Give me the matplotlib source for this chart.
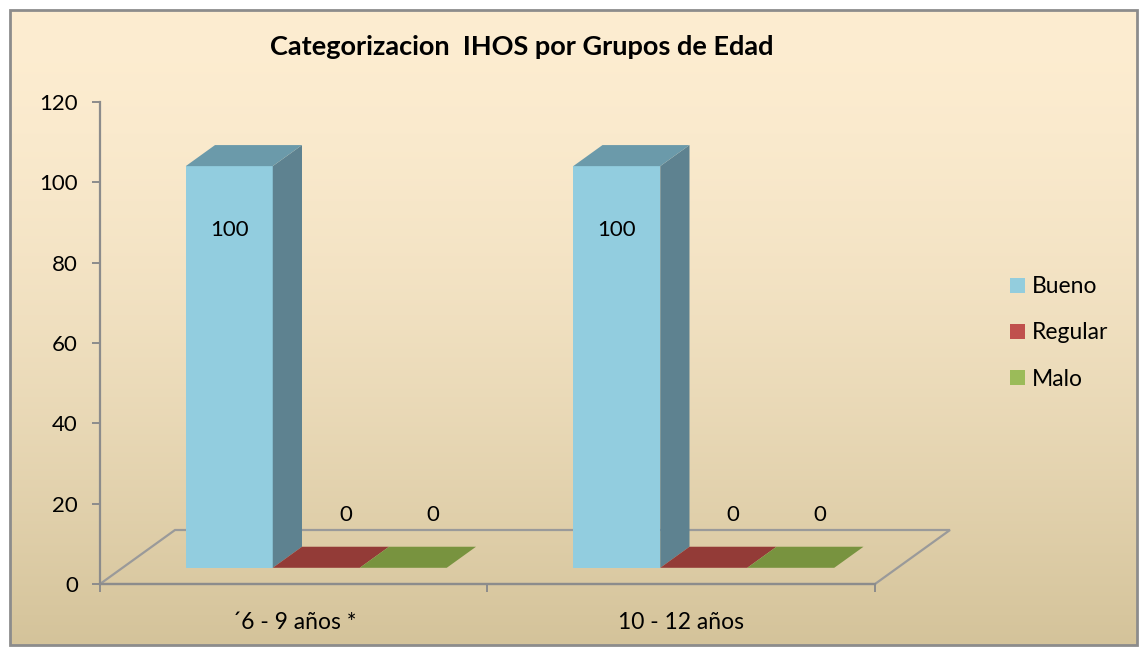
import numpy as np
import matplotlib
matplotlib.use("Agg")
import matplotlib.pyplot as plt
from matplotlib.patches import Polygon, Rectangle, Patch

plt.rcParams['font.family'] = ['Lato', 'DejaVu Sans']

# ---------------- data
groups = ["\u00b46 - 9 a\u00f1os *", "10 - 12 a\u00f1os"]
series = ["Bueno", "Regular", "Malo"]
bueno = [100, 100]
regular = [0, 0]
malo = [0, 0]
title = "Categorizacion  IHOS por Grupos de Edad"
yticks = [0, 20, 40, 60, 80, 100, 120]

# colours: front, side, top, legend
front_c = ["#92CDDF", "#B5453F", "#8AAA4C"]
side_c = ["#5E8290", "#7E302C", "#5E7A30"]
top_c = ["#6B9AAA", "#933B37", "#78933F"]
legend_c = ["#93CDDD", "#C0504D", "#9BBB59"]

W, H = 1142, 648
fig = plt.figure(figsize=(W / 100, H / 100), dpi=100)

############ background: gradient panel + frame
bg = fig.add_axes([0, 0, 1, 1])
bg.set_xlim(0, W)
bg.set_ylim(H, 0)
bg.axis("off")
top_rgb = np.array([253, 237, 209]) / 255.
bot_rgb = np.array([212, 195, 154]) / 255.
t = np.linspace(0, 1, 256)[:, None]
grad = (top_rgb * (1 - t ** 1.6) + bot_rgb * t ** 1.6)[:, None, :]
bg.imshow(grad, extent=[10, 1137, 645, 10], aspect="auto", zorder=0)
bg.add_patch(Rectangle((10, 10), 1127, 635, fill=False, ec="#8C8C8C", lw=2, zorder=1))

############ main axes (front plane of the floor)
x_l, x_r, y_0, y_120 = 100, 875, 584, 102
ax = fig.add_axes([x_l / W, 1 - y_0 / H, (x_r - x_l) / W, (y_0 - y_120) / H])
ax.patch.set_alpha(0)
ax.set_xlim(0, 2)
ax.set_ylim(0, 120)

px_x = (x_r - x_l) / 2.0
px_y = (y_0 - y_120) / 120.0
DX = 75 / px_x   # floor depth in data units
DV = 54 / px_y


def pt(x, v, d):
    return (x + d * DX, v + d * DV)


floor = [pt(0, 0, 0), pt(2, 0, 0), pt(2, 0, 1), pt(0, 0, 1)]
ax.add_patch(Polygon(floor, closed=True, fill=False, ec="#9A9A9A", lw=1.6, clip_on=False, zorder=1))

w = 87 / px_x
d0, d1 = 0.30, 0.69
vals = [bueno, regular, malo]
for g in range(len(groups)):
    start = g + 0.5 - 1.5 * w
    for k in range(3):
        x0 = start + k * w
        v = vals[k][g]
        front = [pt(x0, 0, d0), pt(x0 + w, 0, d0), pt(x0 + w, v, d0), pt(x0, v, d0)]
        side = [pt(x0 + w, 0, d0), pt(x0 + w, 0, d1), pt(x0 + w, v, d1), pt(x0 + w, v, d0)]
        topf = [pt(x0, v, d0), pt(x0 + w, v, d0), pt(x0 + w, v, d1), pt(x0, v, d1)]
        if v > 0:
            ax.add_patch(Polygon(front, closed=True, fc=front_c[k], ec="none", clip_on=False, zorder=3))
            ax.add_patch(Polygon(side, closed=True, fc=side_c[k], ec="none", clip_on=False, zorder=3))
        ax.add_patch(Polygon(topf, closed=True, fc=top_c[k], ec="none", clip_on=False, zorder=3))
        # data labels
        if v > 0:
            lx, ly = pt(x0 + w / 2, v - 16, d0)
        else:
            lx, ly = pt(x0 + w / 2, 8, 0.69)
        ax.text(lx, ly, str(v), ha="center", va="center", fontsize=16, color="black", zorder=5)

for s in ["top", "right"]:
    ax.spines[s].set_visible(False)
for s in ["left", "bottom"]:
    ax.spines[s].set_color("#8C8C8C")
    ax.spines[s].set_linewidth(1.6)
    ax.spines[s].set_zorder(2)

ax.set_yticks(yticks)
ax.tick_params(axis="y", direction="out", length=6, width=1.4, color="#8C8C8C", labelsize=16, pad=10)
ax.set_xticks([0, 1, 2])
ax.set_xticklabels([])
ax.tick_params(axis="x", which="major", direction="out", length=6, width=1.4, color="#8C8C8C")
ax.set_xticks([0.5, 1.5], minor=True)
ax.set_xticklabels(groups, minor=True, fontsize=16.5)
ax.tick_params(axis="x", which="minor", length=0, pad=20)

fig.text(522 / W, 1 - 47 / H, title, ha="center", va="center", fontsize=19.5, fontweight="bold")

handles = [Patch(fc=c, ec="none") for c in legend_c]
fig.legend(handles, series, loc="center left", bbox_to_anchor=(989 / W, 1 - 333 / H),
           frameon=False, fontsize=16.5, handlelength=0.65, handleheight=0.65,
           handletextpad=0.3, labelspacing=1.1)

fig.savefig("out.png", dpi=100)
